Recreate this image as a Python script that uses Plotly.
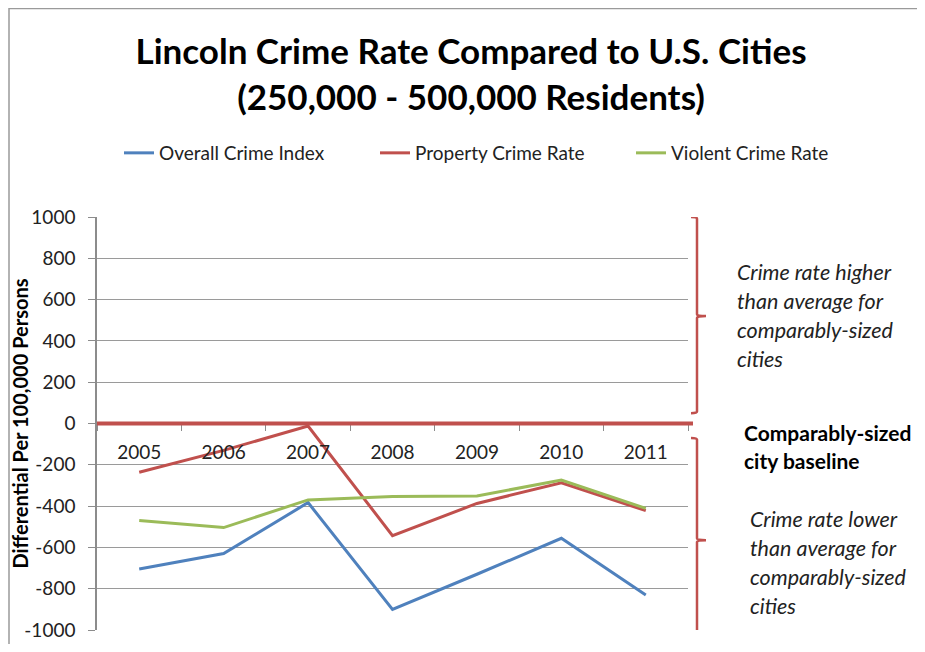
import plotly.graph_objects as go

years = ["2005", "2006", "2007", "2008", "2009", "2010", "2011"]
overall_crime_index = [-705, -630, -383, -900, -730, -556, -830]
property_crime_rate = [-236, -130, -12, -543, -387, -287, -422]
violent_crime_rate = [-470, -504, -370, -354, -351, -274, -411]
y_ticks = [1000, 800, 600, 400, 200, 0, -200, -400, -600, -800, -1000]

# reference pixel geometry (page offset of 8px from html body margin)
W, H = 925, 652
OFF = 8
L, R, T, B = 97, 688, 217, 630
FIG_W, FIG_H = W - 2 * OFF, H - 2 * OFF

def fx(px):
    return (px - L) / (R - L)

def fy(py):
    return (B - py) / (B - T)

def cx(px):
    return (px - OFF) / FIG_W

def cy(py):
    return 1 - (py - OFF) / FIG_H

FONT = "Lato"
BLUE, RED, GREEN = "#4F81BD", "#C0504D", "#9BBB59"

fig = go.Figure()
for name, vals, col in [("Overall Crime Index", overall_crime_index, BLUE),
                        ("Property Crime Rate", property_crime_rate, RED),
                        ("Violent Crime Rate", violent_crime_rate, GREEN)]:
    fig.add_trace(go.Scatter(x=years, y=vals, mode="lines", name=name,
                             line=dict(color=col, width=3)))

shapes = []
# outer chart frame
shapes.append(dict(type="rect", xref="paper", yref="paper",
                   x0=fx(9), x1=fx(1000), y0=fy(1000), y1=fy(8.5),
                   line=dict(color="#9a9a9a", width=1.5), layer="below"))
# baseline at zero
shapes.append(dict(type="line", xref="paper", yref="y", x0=0, x1=fx(693), y0=0, y1=0,
                   line=dict(color=RED, width=4)))

def bracket(top, bottom, mid):
    xv = fx(697)
    xl = fx(691)
    xr = fx(706)
    d = 8
    return (f"M {xl},{top} Q {xv},{top} {xv},{top - d} L {xv},{mid + d} "
            f"Q {xv},{mid} {xr},{mid} Q {xv},{mid} {xv},{mid - d} "
            f"L {xv},{bottom + d} Q {xv},{bottom} {xl},{bottom}")

for top, bottom, mid in [(1000, 50, 520), (-70, -1025, -565)]:
    shapes.append(dict(type="path", xref="paper", yref="y", path=bracket(top, bottom, mid),
                       line=dict(color=RED, width=2.5)))

annotations = []
upper = ["Crime rate higher", "than average for", "comparably-sized", "cities"]
for i, t in enumerate(upper):
    annotations.append(dict(text=f"<i>{t}</i>", xref="paper", yref="paper",
                            x=fx(735), y=fy(272 + i * 29), xanchor="left", yanchor="middle",
                            showarrow=False, font=dict(family=FONT, size=21.5, color="#222")))
lower = ["Crime rate lower", "than average for", "comparably-sized", "cities"]
for i, t in enumerate(lower):
    annotations.append(dict(text=f"<i>{t}</i>", xref="paper", yref="paper",
                            x=fx(748), y=fy(519 + i * 29), xanchor="left", yanchor="middle",
                            showarrow=False, font=dict(family=FONT, size=21.5, color="#222")))
for i, t in enumerate(["Comparably-sized", "city baseline"]):
    annotations.append(dict(text=f"<b>{t}</b>", xref="paper", yref="paper",
                            x=fx(742), y=fy(432 + i * 28), xanchor="left", yanchor="middle",
                            showarrow=False, font=dict(family=FONT, size=21, color="#000")))

fig.update_layout(
    width=FIG_W, height=FIG_H,
    margin=dict(l=L - OFF, r=(W - OFF) - R, t=T - OFF, b=(H - OFF) - B, pad=0, autoexpand=False),
    paper_bgcolor="white", plot_bgcolor="white",
    font=dict(family=FONT, color="#222"),
    title=dict(text="<b>Lincoln Crime Rate Compared to U.S. Cities<br>(250,000 - 500,000 Residents)</b>",
               xref="container", yref="container", x=cx(471), y=cy(64),
               xanchor="center", yanchor="middle",
               font=dict(family=FONT, size=35, color="#000")),
    showlegend=True,
    legend=dict(orientation="h", xref="paper", yref="paper", x=fx(887), y=fy(153),
                xanchor="right", yanchor="middle", font=dict(family=FONT, size=19, color="#222"),
                entrywidth=211, bgcolor="rgba(0,0,0,0)"),
    xaxis=dict(type="category", range=[-0.5, 6.5], anchor="free", position=0.5,
               showline=True, linecolor="#8c8c8c", linewidth=1, automargin=False,
               ticks="outside", tickson="boundaries", ticklen=6, tickcolor="#8c8c8c",
               showgrid=False, zeroline=False, ticklabelstandoff=12,
               tickfont=dict(family=FONT, size=19, color="#222")),
    yaxis=dict(range=[-1000, 1000], tickvals=y_ticks, ticktext=[str(v) for v in y_ticks],
               showline=True, linecolor="#8c8c8c", linewidth=1.5, automargin=False,
               ticks="outside", ticklen=7, tickcolor="#8c8c8c",
               showgrid=True, gridcolor="#9a9a9a", gridwidth=1, zeroline=False,
               ticklabelstandoff=9,
               tickfont=dict(family=FONT, size=19, color="#222"),
               title=dict(text="<b>Differential Per 100,000 Persons</b>", standoff=6,
                          font=dict(family=FONT, size=20, color="#000"))),
    shapes=shapes, annotations=annotations,
)

fig.write_html("out.html")
